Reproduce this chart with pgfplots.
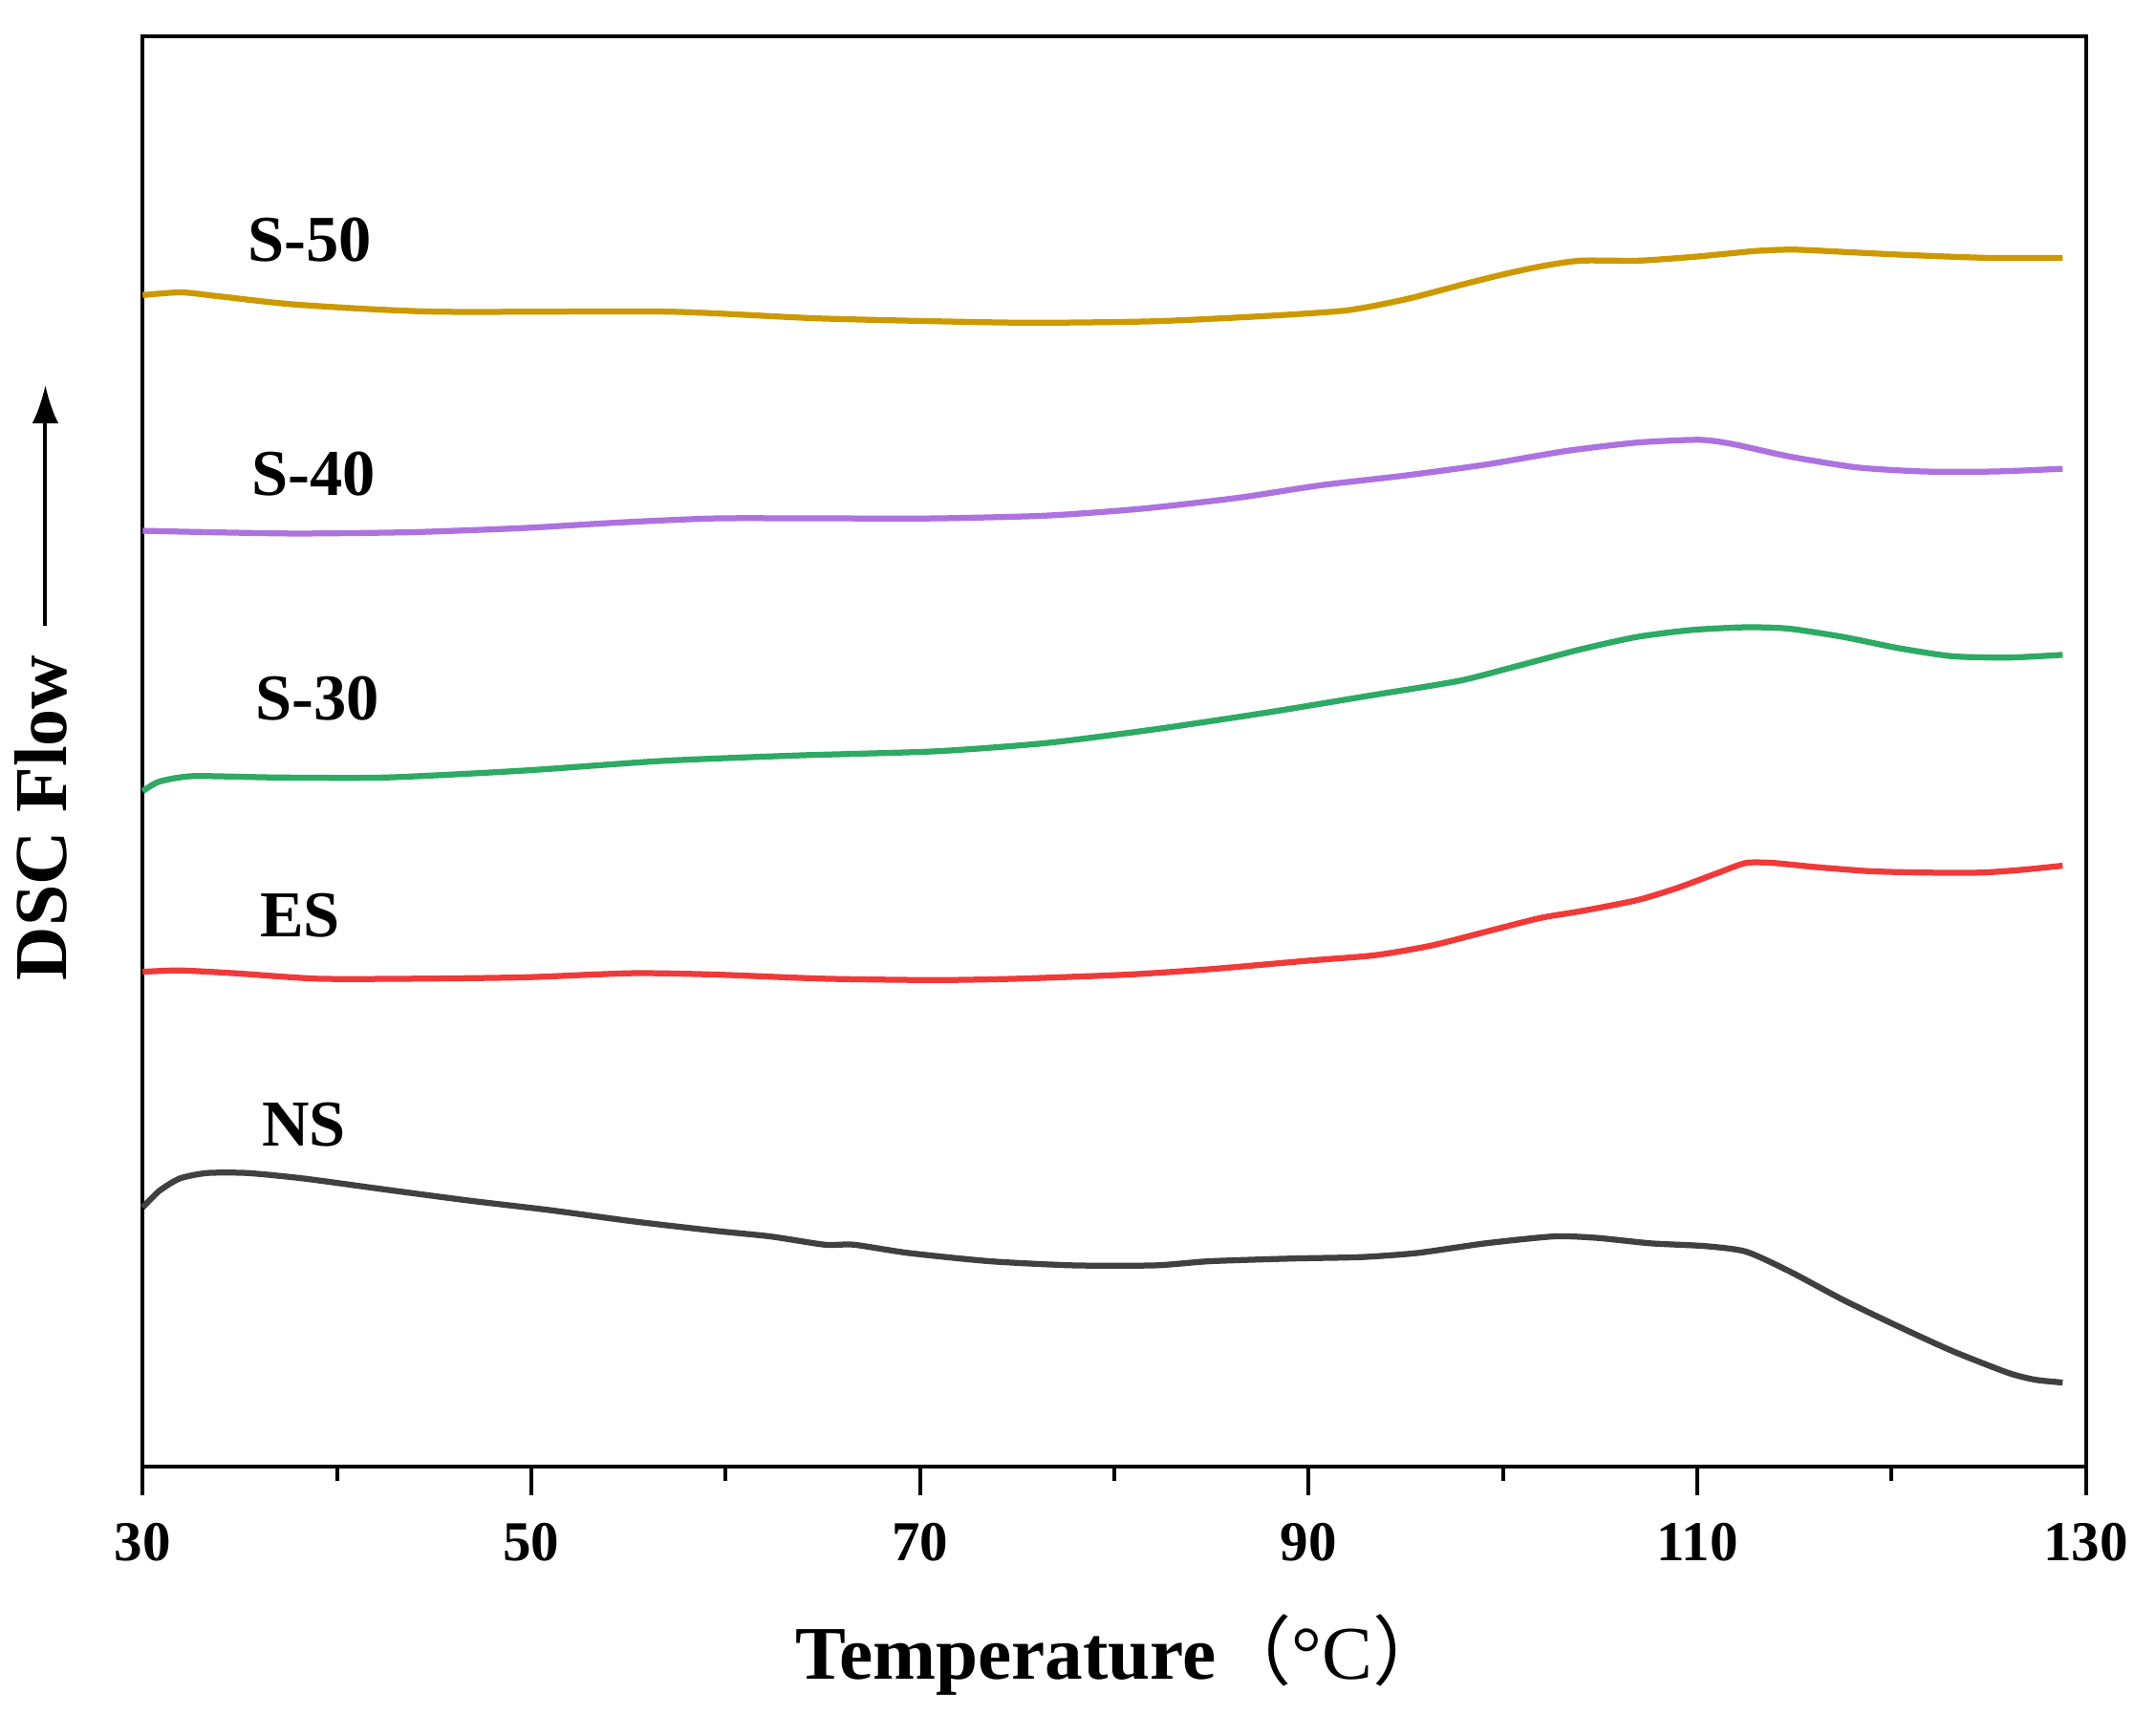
\documentclass[border=0pt]{standalone}
\usepackage{pgfplots}
\pgfplotsset{compat=1.18}
\usepackage{fontspec}
\setmainfont{Liberation Serif}
\newfontfamily\cjk{Noto Sans CJK SC}
\usetikzlibrary{arrows.meta}
\definecolor{cgold}{RGB}{204,153,0}
\definecolor{cpurple}{RGB}{174,114,224}
\definecolor{cgreen}{RGB}{45,170,99}
\definecolor{cred}{RGB}{240,58,58}
\definecolor{cgray}{RGB}{64,64,64}
\begin{document}
\begin{tikzpicture}
\useasboundingbox (-29.86pt,-51.8pt) rectangle (421.34pt,307pt);
\begin{axis}[
  at={(0,0)}, anchor=south west,
  scale only axis,
  width=406.68pt, height=299.46pt,
  xmin=30, xmax=130, ymin=0, ymax=1038,
  xtick={30,50,70,90,110,130},
  minor x tick num=1,
  xtick pos=left,
  ytick=\empty,
  tick align=outside,
  major tick length=6pt,
  minor tick length=3pt,
  axis line style={line width=0.8pt},
  every tick/.style={line width=0.8pt, black},
  /pgf/number format/assume math mode=true,
  xticklabel style={font=\fontsize{11.8}{14}\selectfont\bfseries, inner sep=0pt, anchor=north, yshift=-5.6pt},
  xlabel={\textbf{Temperature}{\cjk （}{°C}{\cjk ）}},
  xlabel style={font=\fontsize{15.85}{18}\selectfont, inner sep=0pt, at={(axis description cs:0.504,-0.1489)}, anchor=base},
  ylabel={\textbf{DSC Flow}},
  ylabel style={font=\fontsize{15.6}{17}\selectfont, inner sep=0pt, at={(axis description cs:-0.0522,0.4535)}, anchor=center, rotate=0},
  clip=false,
  every axis plot/.append style={line width=1.25pt, smooth, tension=0.4},
]
% S-50
\addplot[cgold] coordinates {(30,850)(32,852)(34,849)(38,843)(45,838)(57,838)(65,833)(75,830)(82,831)(88,835)(92,839)(95,847)(98,858)(100,865)(102,871)(104,875)(107,875)(110,878)(113,882)(115,883)(118,881)(121,879)(125,877)(128.8,877)};
% S-40
\addplot[cpurple] coordinates {(30,679)(33.3,678)(38,677)(43.9,678)(49.6,681)(54.5,685)(59.5,688)(65.1,688)(70.8,688)(76.5,690)(81.4,695)(86.4,703)(90.6,712)(94.9,719)(99.1,727)(103.3,737)(106.9,743)(110.1,745)(111.8,742)(114.7,733)(118.2,725)(121.7,722)(125.3,722)(128.8,724)};
% S-30
\addplot[cgreen] coordinates {(30,490)(30.85,497)(32.6,501)(36.9,500)(42.5,500)(49.6,505)(56.7,512)(63.7,516)(70.8,519)(76.5,525)(82.1,535)(87.8,547)(93.4,560)(97.7,570)(100.5,580)(104.0,593)(106.9,602)(109.7,607)(112.5,609)(114.7,608)(117.5,602)(120.3,594)(123.1,588)(126.0,587)(128.8,589)};
% ES
\addplot[cred] coordinates {(30,359)(31.9,360)(34.7,358)(39.0,354)(43.9,354)(49.6,355)(55.2,358)(59.5,357)(65.1,354)(70.8,353)(75.0,354)(80.7,357)(85.0,361)(89.9,367)(93.4,371)(96.3,378)(99.1,388)(101.9,398)(104.0,403)(106.9,411)(109.0,420)(111.1,431)(112.5,438)(113.9,438)(116.1,435)(118.9,432)(121.7,431)(124.6,431)(126.7,433)(128.8,436)};
% NS
\addplot[cgray] coordinates {(30,188)(30.85,200)(31.9,209)(33.3,213)(35.4,213)(38.3,209)(42.5,201)(46.8,193)(51.0,186)(55.2,178)(59.5,171)(62.3,167)(65.1,161)(66.6,161)(69.4,155)(73.6,149)(77.9,146)(82.1,146)(84.9,149)(89.2,151)(92.7,152)(95.6,155)(99.1,162)(102.6,167)(104.8,166)(107.6,162)(110.4,160)(112.5,156)(114.7,142)(117.5,121)(120.3,102)(123.1,84)(126.0,68)(127.4,63)(128.8,61)};
\begin{scope}[font=\fontsize{13.7}{15}\selectfont\bfseries]
\node at (axis cs:38.6,890) {S-50};
\node at (axis cs:38.8,720) {S-40};
\node at (axis cs:39.0,557) {S-30};
\node at (axis cs:38.1,400) {ES};
\node at (axis cs:38.3,248) {NS};
\end{scope}
\draw[line width=0.8pt, -{Latex[length=8pt,width=5.5pt]}] (axis description cs:-0.0501,0.588) -- (axis description cs:-0.0501,0.756);
\end{axis}
\end{tikzpicture}
\end{document}
